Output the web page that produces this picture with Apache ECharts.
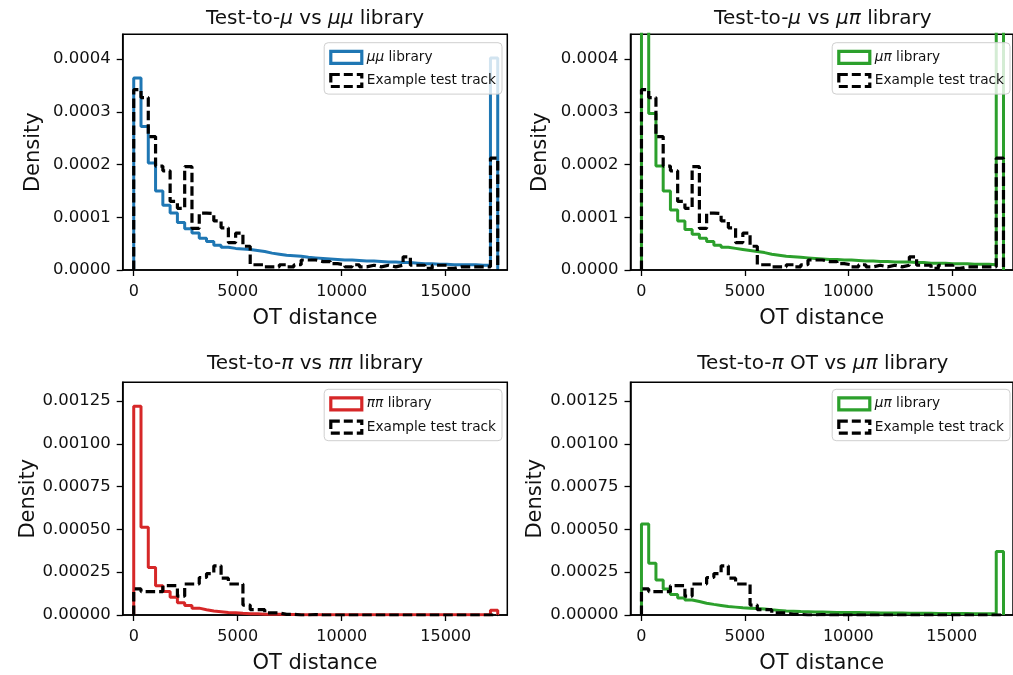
<!DOCTYPE html>
<html>
<head>
<meta charset="utf-8">
<title>OT distance distributions</title>
<script src="https://cdn.jsdelivr.net/npm/echarts@6/dist/echarts.min.js"></script>
<style>
  html, body { margin: 0; padding: 0; background: #fff; }
  #chart { width: 1013px; height: 675px; }
</style>
</head>
<body>
<div id="chart"></div>
<script>
// Histogram binning: 50 equal bins over the OT distance range
const BIN_MIN = 0;
const BIN_MAX = 17500;
const N_BINS = 50;

// Densities per bin, in units of 1e-4
const DENSITY_UNIT = 1e-4;

// Test-to-mu distances vs the mu-mu library
const muMuLibrary = [
  3.64, 2.72, 2.03, 1.50, 1.23, 1.08, 0.90, 0.78, 0.70, 0.60,
  0.54, 0.47, 0.43, 0.41, 0.40, 0.39, 0.37, 0.35, 0.32, 0.30,
  0.28, 0.27, 0.26, 0.24, 0.23, 0.22, 0.21, 0.20, 0.19, 0.19,
  0.18, 0.17, 0.17, 0.16, 0.15, 0.15, 0.14, 0.14, 0.13, 0.12,
  0.12, 0.11, 0.11, 0.10, 0.10, 0.10, 0.10, 0.09, 0.09, 4.02
];

// Test-to-mu distances vs the mu-pi library
const muPiLibraryMu = [
  5.00, 2.97, 1.97, 1.50, 1.14, 0.93, 0.77, 0.68, 0.60, 0.54,
  0.47, 0.43, 0.41, 0.39, 0.37, 0.35, 0.33, 0.30, 0.28, 0.26,
  0.25, 0.24, 0.23, 0.22, 0.21, 0.20, 0.20, 0.19, 0.19, 0.18,
  0.17, 0.17, 0.16, 0.16, 0.15, 0.15, 0.15, 0.14, 0.14, 0.13,
  0.13, 0.13, 0.12, 0.12, 0.12, 0.11, 0.11, 0.11, 0.10, 4.60
];

// Example test track, distances to mu tracks
const testTrackMu = [
  3.42, 3.27, 2.53, 1.97, 1.88, 1.30, 1.17, 1.96, 0.79, 1.08,
  1.07, 0.93, 0.80, 0.52, 0.70, 0.45, 0.10, 0.10, 0.06, 0.06,
  0.10, 0.06, 0.10, 0.19, 0.19, 0.16, 0.16, 0.12, 0.10, 0.06,
  0.10, 0.06, 0.09, 0.06, 0.09, 0.06, 0.09, 0.25, 0.09, 0.09,
  0.03, 0.09, 0.09, 0.03, 0.06, 0.06, 0.06, 0.06, 0.06, 2.12
];

// Test-to-pi distances vs the pi-pi library
const piPiLibrary = [
  12.19, 5.13, 2.77, 1.71, 1.37, 1.04, 0.71, 0.56, 0.40, 0.31,
  0.23, 0.19, 0.15, 0.13, 0.10, 0.08, 0.07, 0.05, 0.05, 0.04,
  0.03, 0.03, 0.02, 0.02, 0.02, 0.02, 0.02, 0.02, 0.02, 0.01,
  0.01, 0.01, 0.01, 0.01, 0.01, 0.01, 0.01, 0.01, 0.01, 0.01,
  0.01, 0.01, 0.01, 0.01, 0.01, 0.01, 0.01, 0.01, 0.01, 0.28
];

// Test-to-pi distances vs the mu-pi library
const muPiLibraryPi = [
  5.31, 3.02, 2.04, 1.52, 1.19, 1.00, 0.88, 0.79, 0.69, 0.62,
  0.56, 0.50, 0.46, 0.42, 0.40, 0.38, 0.35, 0.30, 0.27, 0.24,
  0.22, 0.20, 0.19, 0.18, 0.17, 0.16, 0.15, 0.15, 0.14, 0.14,
  0.13, 0.13, 0.12, 0.12, 0.11, 0.11, 0.10, 0.10, 0.10, 0.10,
  0.09, 0.09, 0.09, 0.09, 0.09, 0.08, 0.08, 0.08, 0.08, 3.71
];

// Example test track, distances to pi tracks
const testTrackPi = [
  1.52, 1.37, 1.37, 1.37, 1.71, 1.71, 1.10, 1.81, 1.81, 2.19,
  2.42, 2.87, 2.15, 1.81, 1.81, 0.58, 0.31, 0.31, 0.12, 0.12,
  0.04, 0.04, 0.00, 0.00, 0.03, 0.00, 0.00, 0.00, 0.00, 0.00,
  0.00, 0.00, 0.00, 0.00, 0.00, 0.00, 0.00, 0.00, 0.00, 0.00,
  0.00, 0.00, 0.00, 0.00, 0.00, 0.00, 0.00, 0.00, 0.00, 0.00
];

// Tick values
const xTicks = [0, 5000, 10000, 15000];
const yTicksMu = [0, 0.0001, 0.0002, 0.0003, 0.0004];
const yTicksPi = [0, 0.00025, 0.00050, 0.00075, 0.00100, 0.00125];

// Text
const titles = [
  'Test-to-{i|μ} vs {i|μμ} library',
  'Test-to-{i|μ} vs {i|μπ} library',
  'Test-to-{i|π} vs {i|ππ} library',
  'Test-to-{i|π} OT vs {i|μπ} library'
];
const legendText = {
  libMuMu: '{i|μμ} library',
  libMuPiMu: '{i|μπ} library',
  libPiPi: '{i|ππ} library',
  libMuPiPi: '{i|μπ} library',
  trackMu1: 'Example test track',
  trackMu2: 'Example test track',
  trackPi1: 'Example test track',
  trackPi2: 'Example test track'
};

const FONT = 'DejaVu Sans';
const TEXT = '#111';
const BLUE = '#1f77b4', GREEN = '#2ca02c', RED = '#d62728';

// Bin edges from the binning constants
const binEdges = [];
for (let i = 0; i <= N_BINS; i++) binEdges.push(BIN_MIN + i * (BIN_MAX - BIN_MIN) / N_BINS);

// Outline of a step histogram: (edge, 0) up, across each bin, back down to 0
function stepOutline(values) {
  const pts = [[binEdges[0], 0]];
  values.forEach((v, i) => {
    const d = v * DENSITY_UNIT;
    pts.push([binEdges[i], d]);
    pts.push([binEdges[i + 1], d]);
  });
  pts.push([binEdges[N_BINS], 0]);
  return pts;
}

const PW = 384.6;
const panels = [
  { left: 122.7, top: 34.3, height: 235.7, xMax: 17960, yMax: 0.000447, yTicks: yTicksMu, dec: 4, yNameGap: 79,
    lib: muMuLibrary, libName: 'libMuMu', color: BLUE, track: testTrackMu, trackName: 'trackMu1',
    legendRight: 511, legendTop: 42.7, titleTop: 8.5 },
  { left: 630.5, top: 34.3, height: 235.7, xMax: 17960, yMax: 0.000447, yTicks: yTicksMu, dec: 4, yNameGap: 79,
    lib: muPiLibraryMu, libName: 'libMuPiMu', color: GREEN, track: testTrackMu, trackName: 'trackMu2',
    legendRight: 3, legendTop: 42.7, titleTop: 8.5 },
  { left: 122.7, top: 382.3, height: 235.4, xMax: 17960, yMax: 0.001359, yTicks: yTicksPi, dec: 5, yNameGap: 84,
    lib: piPiLibrary, libName: 'libPiPi', color: RED, track: testTrackPi, trackName: 'trackPi1',
    legendRight: 511, legendTop: 389.3, titleTop: 354 },
  { left: 630.5, top: 382.3, height: 235.4, xMax: 17960, yMax: 0.001359, yTicks: yTicksPi, dec: 5, yNameGap: 84,
    lib: muPiLibraryPi, libName: 'libMuPiPi', color: GREEN, track: testTrackPi, trackName: 'trackPi2',
    legendRight: 3, legendTop: 389.3, titleTop: 354 }
];

const italicRich = (size) => ({ i: { fontStyle: 'italic', fontSize: size, fontFamily: FONT, color: TEXT } });

const option = {
  animation: false,
  backgroundColor: '#fff',
  title: panels.map((p, k) => ({
    text: titles[k],
    left: p.left + PW / 2,
    top: p.titleTop,
    textAlign: 'center',
    padding: 0,
    textStyle: { fontSize: 20, fontWeight: 'normal', fontFamily: FONT, color: TEXT, rich: italicRich(20) }
  })),
  grid: panels.map(p => ({
    left: p.left, top: p.top, width: PW, height: p.height,
    show: true, borderColor: '#000', borderWidth: 1.5, backgroundColor: 'transparent'
  })),
  xAxis: panels.map((p, k) => ({
    type: 'value', gridIndex: k, min: -530, max: p.xMax,
    axisLine: { show: true, onZero: false, lineStyle: { color: '#000', width: 1.5 } },
    axisTick: { show: true, length: 6, lineStyle: { color: '#000', width: 1.3 }, customValues: xTicks },
    axisLabel: { customValues: xTicks, fontSize: 16, color: TEXT, fontFamily: FONT, margin: 14,
                 formatter: v => String(v) },
    splitLine: { show: false },
    name: 'OT distance', nameLocation: 'middle', nameGap: 38,
    nameTextStyle: { fontSize: 21, color: TEXT, fontFamily: FONT }
  })),
  yAxis: panels.map((p, k) => ({
    type: 'value', gridIndex: k, min: 0, max: p.yMax,
    axisLine: { show: true, onZero: false, lineStyle: { color: '#000', width: 1.5 } },
    axisTick: { show: true, length: 6, lineStyle: { color: '#000', width: 1.3 }, customValues: p.yTicks },
    axisLabel: { customValues: p.yTicks, fontSize: 16.5, color: TEXT, fontFamily: FONT, margin: 12,
                 formatter: v => v.toFixed(p.dec) },
    splitLine: { show: false },
    name: 'Density', nameLocation: 'middle', nameGap: p.yNameGap,
    nameTextStyle: { fontSize: 21, color: TEXT, fontFamily: FONT }
  })),
  legend: panels.map(p => ({
    orient: 'vertical', right: p.legendRight, top: p.legendTop,
    itemWidth: 31, itemHeight: 12, itemGap: 8, itemTextGap: 8,
    padding: [7, 6, 6, 5],
    borderColor: '#cfcfcf', borderWidth: 1, borderRadius: 4,
    backgroundColor: 'rgba(255,255,255,0.8)',
    selectedMode: false,
    textStyle: { fontSize: 13.7, fontFamily: FONT, color: TEXT, rich: italicRich(13.7) },
    formatter: name => legendText[name],
    data: [
      { name: p.libName, icon: 'rect',
        itemStyle: { color: '#fff', borderColor: p.color, borderWidth: 3.2, borderType: 'solid' } },
      { name: p.trackName, icon: 'rect',
        itemStyle: { color: '#fff', borderColor: '#000', borderWidth: 3.2, borderType: [9, 4] } }
    ]
  })),
  series: panels.flatMap((p, k) => [
    {
      name: p.libName, type: 'line', xAxisIndex: k, yAxisIndex: k,
      data: stepOutline(p.lib), showSymbol: false, symbol: 'none', clip: true,
      lineStyle: { color: p.color, width: 3 }, itemStyle: { color: p.color }, z: 2
    },
    {
      name: p.trackName, type: 'line', xAxisIndex: k, yAxisIndex: k,
      data: stepOutline(p.track), showSymbol: false, symbol: 'none', clip: true,
      lineStyle: { color: '#000', width: 3.2, type: [9.5, 4] }, itemStyle: { color: '#000' }, z: 3
    }
  ])
};

const chart = echarts.init(document.getElementById('chart'), null, { renderer: 'canvas' });
chart.setOption(option);
</script>
</body>
</html>
